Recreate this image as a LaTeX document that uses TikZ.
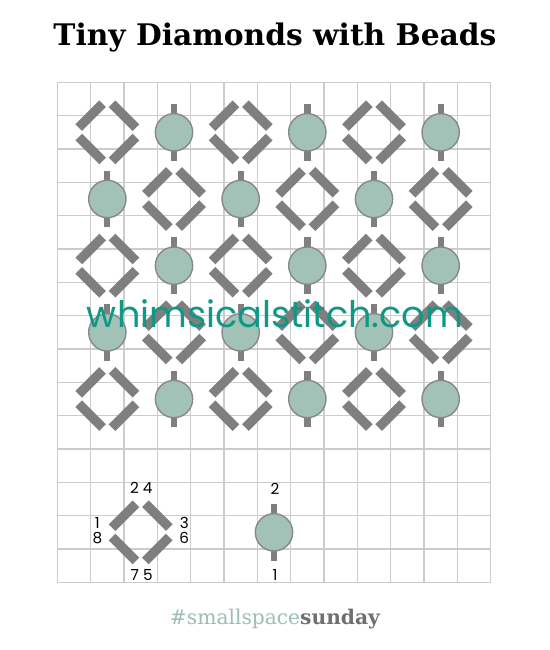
\documentclass[tikz,border=0pt]{standalone}
\usepackage{fontspec}
\usepackage{xcolor}
\usepackage{graphicx}
\usepackage{tikz}
\usetikzlibrary{positioning}
\setmainfont{DejaVu Serif}
\newfontfamily\labelfont{Poppins}

\definecolor{gridgray}{HTML}{CCCCCC}
\definecolor{stitchgray}{HTML}{7F7F7F}
\definecolor{beadgreen}{HTML}{A3C2B7}
\definecolor{beadedge}{HTML}{888888}
\definecolor{markteal}{RGB}{16,152,134}
\definecolor{hashgreen}{HTML}{9DBDB1}
\definecolor{sundaygray}{HTML}{6F6F6F}

\begin{document}
\begin{tikzpicture} [
                stitchbar/.style = {line width=0.28cm, stitchgray, shorten <=0.2cm, shorten >=0.2cm},
                beadbar/.style = {line width=0.19cm, stitchgray, shorten <=0.15cm, shorten >=0.15cm},
                bead/.style = {circle, fill=beadgreen, draw=beadedge, line width=1.2pt, minimum size=1.12cm, inner sep=0pt},
                holelabel/.style = {font=\labelfont\fontsize{13}{14}\selectfont, inner sep=0pt}
            ]
            \useasboundingbox[fill=white] (-1.72,-2.03) rectangle (14.78,17.47);
            \draw [gridgray, line width=0.9pt] (0,0) grid (13,15);
            % diamonds: four stitches round a centre hole
            \foreach \cx/\cy [count=\i] in {1.5/13.5, 5.5/13.5, 9.5/13.5, 3.5/11.5, 7.5/11.5, 11.5/11.5,
                                            1.5/9.5, 5.5/9.5, 9.5/9.5, 3.5/7.5, 7.5/7.5, 11.5/7.5,
                                            1.5/5.5, 5.5/5.5, 9.5/5.5, 2.5/1.5} {
                \coordinate (l\i) at (\cx-1,\cy);
                \coordinate (t\i) at (\cx,\cy+1);
                \coordinate (r\i) at (\cx+1,\cy);
                \coordinate (d\i) at (\cx,\cy-1);
                \draw [stitchbar] (l\i) -- (t\i);
                \draw [stitchbar] (r\i) -- (t\i);
                \draw [stitchbar] (d\i) -- (r\i);
                \draw [stitchbar] (d\i) -- (l\i);
            }
            % beads: one upright stitch each
            \foreach \cx/\cy [count=\i] in {3.5/13.5, 7.5/13.5, 11.5/13.5, 1.5/11.5, 5.5/11.5, 9.5/11.5,
                                            3.5/9.5, 7.5/9.5, 11.5/9.5, 1.5/7.5, 5.5/7.5, 9.5/7.5,
                                            3.5/5.5, 7.5/5.5, 11.5/5.5, 6.5/1.5} {
                \coordinate (bb\i) at (\cx,\cy-1);
                \coordinate (bt\i) at (\cx,\cy+1);
                \draw [beadbar] (bb\i) -- (bt\i);
                \node[bead] (bead\i) at (\cx,\cy) {};
            }
            % stitch order
            \node[holelabel] (n24) at (2.52,2.82) {2 4};
            \node[holelabel] (n75) at (2.53,0.22) {7 5};
            \node[holelabel] (n1) at (1.2,1.79) {1};
            \node[holelabel] (n8) at (1.2,1.32) {8};
            \node[holelabel] (n3) at (3.81,1.79) {3};
            \node[holelabel] (n6) at (3.81,1.32) {6};
            \node[holelabel] (nb2) at (6.53,2.8) {2};
            \node[holelabel] (nb1) at (6.53,0.22) {1};
            \node (title) at (6.53,16.33) {\resizebox{13.29cm}{!}{\bfseries Tiny Diamonds with Beads}};
            \node (site) at (6.53,8.05) {\resizebox{11.28cm}{!}{\color{markteal}\labelfont whimsicalstitch.com}};
            \node (tag) at (6.53,-1.09) {\resizebox{6.3cm}{!}{{\color{hashgreen}\#smallspace}{\color{sundaygray}\bfseries sunday}}};
        \end{tikzpicture}
\end{document}
